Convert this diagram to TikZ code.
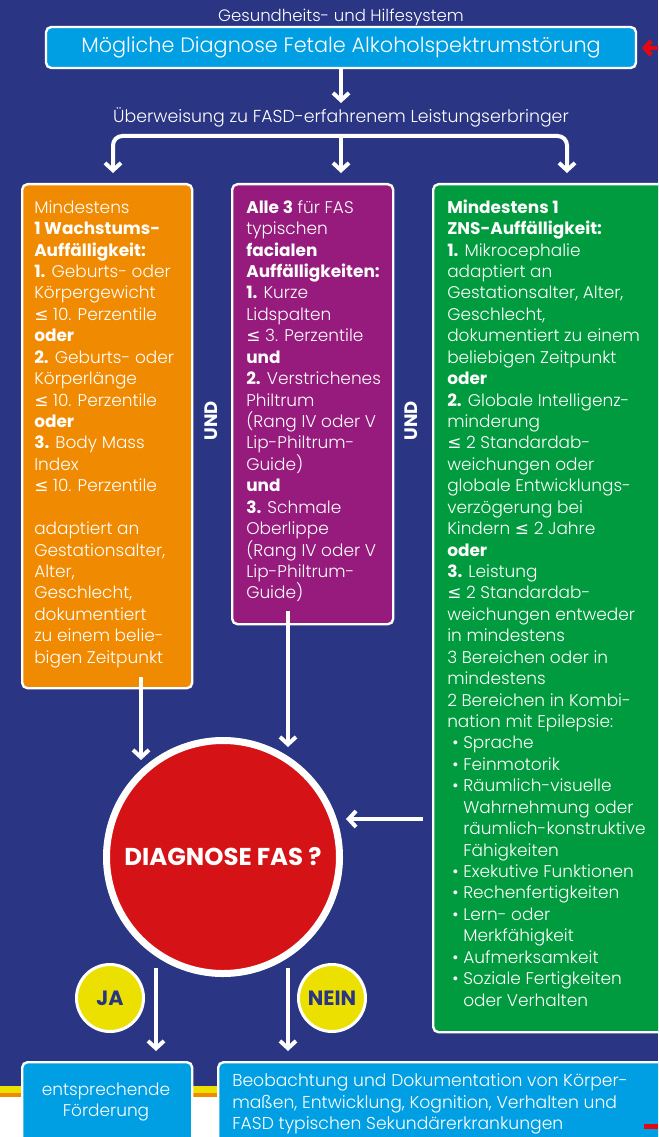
\documentclass[tikz,border=0pt]{standalone}
\usepackage{fontspec}
\setmainfont{Poppins}[UprightFont=* Light, BoldFont=* Bold]
\newfontfamily\symfont{DejaVu Sans}
\usetikzlibrary{arrows.meta,positioning}
\definecolor{fasblue}{RGB}{42,53,131}
\definecolor{fasorange}{RGB}{240,138,0}
\definecolor{faspurple}{RGB}{150,27,125}
\definecolor{fasgreen}{RGB}{0,155,62}
\definecolor{fascyan}{RGB}{0,159,227}
\definecolor{fasred}{RGB}{213,19,23}
\definecolor{faswarn}{RGB}{227,6,19}
\definecolor{fasyellow}{RGB}{236,224,0}
\newcommand{\kl}{{\symfont ≤}}
\newcommand{\boxfont}{\fontsize{12.7}{16.07}\selectfont}
\newcommand{\pkt}{\hspace*{3.75pt}\makebox[8.25pt][l]{•}}
\newcommand{\ein}{\hspace*{12pt}}
\tikzset{
  pfeil/.style={white, line width=3pt, -{Straight Barb[length=5.5pt, width=12pt]}},
  kasten/.style={draw=white, line width=1.8pt, rounded corners=4pt, anchor=north west, inner sep=0pt},
  kastentext/.style={white, anchor=north west, inner sep=0pt, align=left, font=\boxfont},
  rund/.style={circle, draw=white, inner sep=0pt},
}
\begin{document}
\begin{tikzpicture}[x=0.75pt, y=-0.75pt]
  \useasboundingbox (0,0) rectangle (658,1137);
  \clip (0,0) rectangle (658,1137);
  % hintergrund
  \fill[white] (0,0) rectangle (658,1137);
  \fill[fasblue] (0,0) rectangle (658,1086);
  \fill[fasyellow] (0,1086) rectangle (658,1093);
  \fill[fasorange] (0,1093) rectangle (658,1097);

  % kopf
  \node[white, font=\fontsize{12.4}{14}\selectfont] (system) at (341,17) {Gesundheits- und Hilfesystem};
  \node[kasten, fill=fascyan, anchor=center, minimum width=442.5pt, minimum height=30.75pt,
        text=white, font=\fontsize{15.6}{18}\selectfont] (moeglich) at (341,47.5)
        {Mögliche Diagnose Fetale Alkoholspektrumstörung};
  \coordinate (rand) at (664,48);
  \coordinate (rspitze) at (642,48);
  \draw[faswarn, line width=3.4pt, -{Straight Barb[length=4.5pt, width=10.5pt]}] (rand) -- (rspitze);

  \node[white, font=\fontsize{13}{15}\selectfont] (ueberweisung) at (341,117)
        {Überweisung zu FASD-erfahrenem Leistungserbringer};
  \coordinate (p0) at (341,103);
  \draw[pfeil] (moeglich.south) -- (p0);
  \coordinate (verteil) at (341,136);
  \coordinate (p1) at (113,173);
  \coordinate (p2) at (341,173);
  \coordinate (p3) at (567,173);
  \draw[pfeil, rounded corners=7pt] (verteil) -| (p1);
  \draw[pfeil, rounded corners=7pt] (verteil) -| (p3);
  \draw[pfeil] (verteil) -- (p2);

  % drei kaesten
  \node[kasten, fill=fasorange, minimum width=127.5pt, minimum height=378pt] (wachstum) at (21,183) {};
  \node[kasten, fill=faspurple, minimum width=120.75pt, minimum height=330pt] (facial) at (231,183) {};
  \node[kasten, fill=fasgreen, minimum width=177pt, minimum height=636pt] (zns) at (432,183) {};

  \node[kastentext] (wachstumtext) at (34,198) {\strut Mindestens\\
    \textbf{1 Wachstums-}\\
    \textbf{Auffälligkeit:}\\
    \textbf{1.} Geburts- oder\\
    Körpergewicht\\
    \kl\ 10. Perzentile\\
    \textbf{oder}\\
    \textbf{2.} Geburts- oder\\
    Körperlänge\\
    \kl\ 10. Perzentile\\
    \textbf{oder}\\
    \textbf{3.} Body Mass\\
    Index\\
    \kl\ 10. Perzentile\\[16.07pt]
    adaptiert an\\
    Gestationsalter,\\
    Alter,\\
    Geschlecht,\\
    dokumentiert\\
    zu einem belie-\\
    bigen Zeitpunkt};

  \node[kastentext] (facialtext) at (246,198) {\strut\textbf{Alle 3} für FAS\\
    typischen\\
    \textbf{facialen}\\
    \textbf{Auffälligkeiten:}\\
    \textbf{1.} Kurze\\
    Lidspalten\\
    \kl\ 3. Perzentile\\
    \textbf{und}\\
    \textbf{2.} Verstrichenes\\
    Philtrum\\
    (Rang IV oder V\\
    Lip-Philtrum-\\
    Guide)\\
    \textbf{und}\\
    \textbf{3.} Schmale\\
    Oberlippe\\
    (Rang IV oder V\\
    Lip-Philtrum-\\
    Guide)};

  \node[kastentext] (znstext) at (447,198) {\strut\textbf{Mindestens 1}\\
    \textbf{ZNS-Auffälligkeit:}\\
    \textbf{1.} Mikrocephalie\\
    adaptiert an\\
    Gestationsalter, Alter,\\
    Geschlecht,\\
    dokumentiert zu einem\\
    beliebigen Zeitpunkt\\
    \textbf{oder}\\
    \textbf{2.} Globale Intelligenz-\\
    minderung\\
    \kl\ 2 Standardab-\\
    weichungen oder\\
    globale Entwicklungs-\\
    verzögerung bei\\
    Kindern \kl\ 2 Jahre\\
    \textbf{oder}\\
    \textbf{3.} Leistung\\
    \kl\ 2 Standardab-\\
    weichungen entweder\\
    in mindestens\\
    3 Bereichen oder in\\
    mindestens\\
    2 Bereichen in Kombi-\\
    nation mit Epilepsie:\\
    \pkt Sprache\\
    \pkt Feinmotorik\\
    \pkt Räumlich-visuelle\\
    \ein Wahrnehmung oder\\
    \ein räumlich-konstruktive\\
    \ein Fähigkeiten\\
    \pkt Exekutive Funktionen\\
    \pkt Rechenfertigkeiten\\
    \pkt Lern- oder\\
    \ein Merkfähigkeit\\
    \pkt Aufmerksamkeit\\
    \pkt Soziale Fertigkeiten\\
    \ein oder Verhalten};

  \node[white, rotate=90, font=\bfseries\fontsize{13.5}{15}\selectfont] (und1) at (211,421) {UND};
  \node[white, rotate=90, font=\bfseries\fontsize{13.5}{15}\selectfont] (und2) at (411,421) {UND};

  % diagnose
  \node[rund, fill=fasred, line width=5.25pt, minimum size=174.75pt, text=white,
        font=\bfseries\fontsize{18.3}{22}\selectfont] (fas) at (223,857) {DIAGNOSE FAS ?};
  \coordinate (e1) at (141,760);
  \coordinate (e2) at (288,747);
  \coordinate (e3) at (346,819);
  \draw[pfeil] (e1 |- wachstum.south) ++(0,-12) -- (e1);
  \draw[pfeil] (e2 |- facial.south) ++(0,-14) -- (e2);
  \draw[pfeil] (zns.west |- e3) ++(-9,0) -- (e3);

  \node[rund, fill=fasyellow, line width=2.25pt, minimum size=50.25pt, text=fasblue,
        font=\bfseries\fontsize{15.5}{18}\selectfont] (ja) at (110,998) {JA};
  \node[rund, fill=fasyellow, line width=2.25pt, minimum size=50.25pt, text=fasblue,
        font=\bfseries\fontsize{15.5}{18}\selectfont] (nein) at (332,998) {NEIN};
  \coordinate (e4) at (156,1051);
  \coordinate (e5) at (288,1051);
  \draw[pfeil] (e4 |- fas.south) ++(0,-9) -- (e4);
  \draw[pfeil] (e5 |- fas.south) ++(0,-9) -- (e5);

  % unten
  \node[kasten, fill=fascyan, minimum width=127.5pt, minimum height=75pt] (foerderung) at (21,1061) {};
  \node[kasten, fill=fascyan, minimum width=339.75pt, minimum height=75pt] (beobachtung) at (217,1061) {};
  \node[white, align=center, font=\boxfont] (foerdertext) at (106,1102) {entsprechende\\Förderung};
  \node[kastentext, font=\fontsize{12.9}{16.07}\selectfont] (beobtext) at (232,1071.5)
        {\strut Beobachtung und Dokumentation von Körper-\\
    maßen, Entwicklung, Kognition, Verhalten und\\
    FASD typischen Sekundärerkrankungen};
  \fill[faswarn] (644,1124) rectangle (658,1129);
\end{tikzpicture}
\end{document}
